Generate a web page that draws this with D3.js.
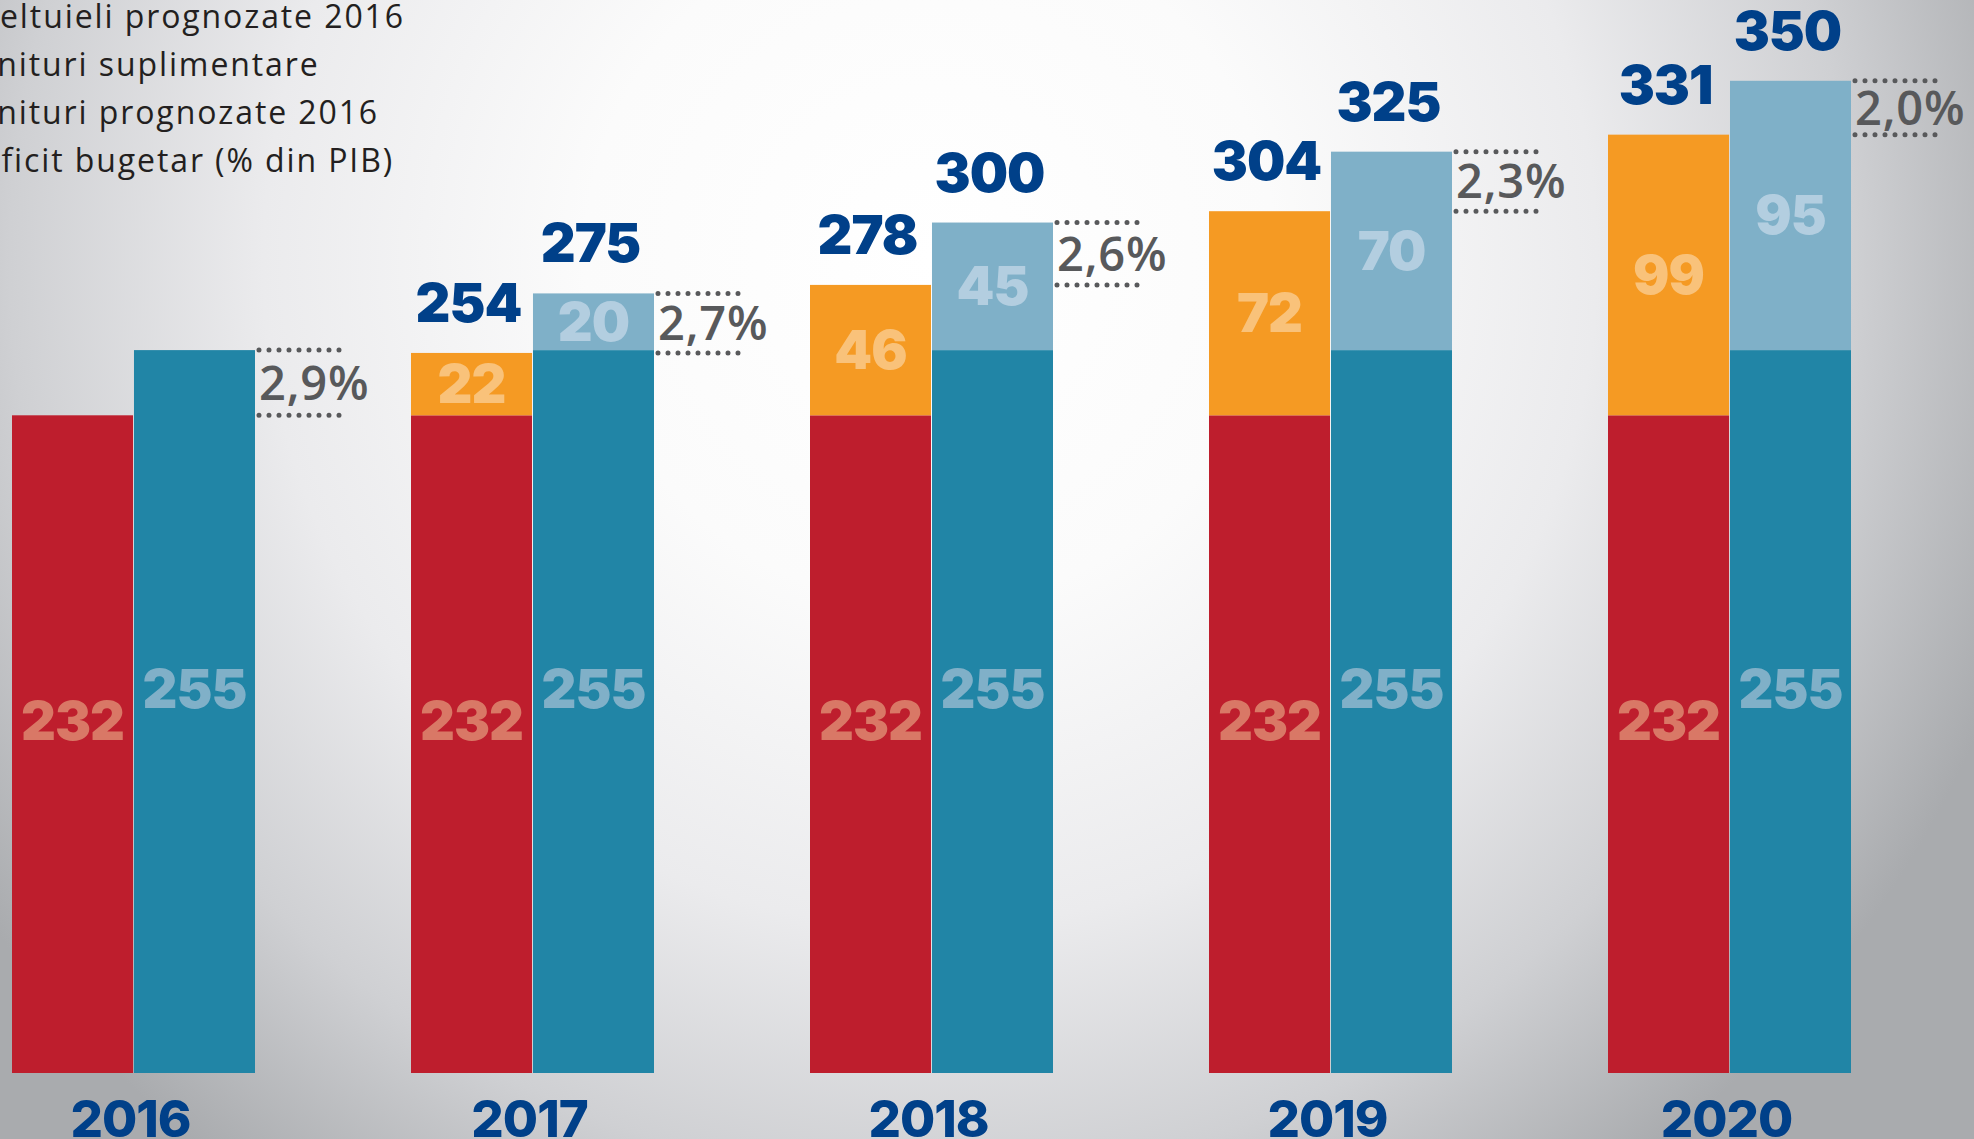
<!DOCTYPE html>
<head>
<meta charset="utf-8">
<style>
  body { margin: 0; overflow: hidden; }
  svg { display: block; }
</style>
</head>
<body>
<div id="chart"></div>
<script src="https://d3js.org/d3.v7.min.js"></script>
<script>
// data (mld. lei)
var years = ["2016", "2017", "2018", "2019", "2020"];
var cheltuieliBaza = [232, 232, 232, 232, 232];
var cheltuieliSupl = [0, 22, 46, 72, 99];
var venituriBaza = [255, 255, 255, 255, 255];
var venituriSupl = [0, 20, 45, 70, 95];
var totalCheltuieli = [null, 254, 278, 304, 331];
var totalVenituri = [null, 275, 300, 325, 350];
var deficit = ["2,9%", "2,7%", "2,6%", "2,3%", "2,0%"];
var legendLabels = ["Cheltuieli prognozate 2016", "Venituri suplimentare",
                    "Venituri prognozate 2016", "Deficit bugetar (% din PIB)"];

var width = 1974, height = 1139;
var base = 1073;

var svg = d3.select("#chart").append("svg")
    .attr("width", width)
    .attr("height", height);

// background
var defs = svg.append("defs");
var grad = defs.append("radialGradient")
    .attr("id", "bg")
    .attr("gradientUnits", "userSpaceOnUse")
    .attr("cx", 930).attr("cy", 260).attr("r", 1150);
[[0, "#ffffff"], [0.3, "#fbfbfb"], [0.58, "#ebebed"], [0.8, "#cfd0d3"], [1, "#a9abae"]]
  .forEach(function(s) {
    grad.append("stop").attr("offset", s[0]).attr("stop-color", s[1]);
  });
svg.append("rect").attr("width", width).attr("height", height).attr("fill", "url(#bg)");

// scales
var x = d3.scaleBand()
    .domain(years)
    .range([12, 1851])
    .paddingInner(0.391)
    .paddingOuter(0);
var sub = d3.scaleBand()
    .domain(["ch", "ven"])
    .range([0, x.bandwidth()])
    .paddingInner(0.008);
var y = d3.scaleLinear()
    .domain([0, 378.5])
    .range([base, 0]);

var rows = years.map(function(yr, i) {
  return {
    year: yr,
    chBase: cheltuieliBaza[i], chSupl: cheltuieliSupl[i],
    venBase: venituriBaza[i], venSupl: venituriSupl[i],
    totCh: totalCheltuieli[i], totVen: totalVenituri[i],
    def: deficit[i]
  };
});

var segs = [];
rows.forEach(function(d) {
  segs.push({year: d.year, bar: "ch", y0: 0, y1: d.chBase, fill: "#be1e2d", text: "#d97866", base: true});
  if (d.chSupl) segs.push({year: d.year, bar: "ch", y0: d.chBase, y1: d.chBase + d.chSupl, fill: "#f59a23", text: "#f9c27a", base: false});
  segs.push({year: d.year, bar: "ven", y0: 0, y1: d.venBase, fill: "#2185a6", text: "#80b0c8", base: true});
  if (d.venSupl) segs.push({year: d.year, bar: "ven", y0: d.venBase, y1: d.venBase + d.venSupl, fill: "#7fb0c8", text: "#b3cee0", base: false});
});

var numFont = "Inter, 'Open Sans', sans-serif";

svg.selectAll(".seg")
    .data(segs)
  .enter().append("rect")
    .attr("class", "seg")
    .attr("x", function(d) { return x(d.year) + sub(d.bar); })
    .attr("width", sub.bandwidth())
    .attr("y", function(d) { return y(d.y1); })
    .attr("height", function(d) { return y(d.y0) - y(d.y1); })
    .attr("fill", function(d) { return d.fill; });

// numbers inside the segments
svg.selectAll(".segLabel")
    .data(segs)
  .enter().append("text")
    .attr("class", "segLabel")
    .attr("x", function(d) { return x(d.year) + sub(d.bar) + sub.bandwidth() / 2; })
    .attr("y", function(d) {
      var mid = (y(d.y0) + y(d.y1)) / 2;
      return mid + 19 - (d.base ? 23 : 0);
    })
    .attr("text-anchor", "middle")
    .style("font-family", numFont)
    .style("font-weight", 900)
    .style("font-size", "54px")
    .style("letter-spacing", "-1px")
    .attr("fill", function(d) { return d.text; })
    .text(function(d) { return d.y1 - d.y0; });

// totals above the bars
var totals = [];
rows.forEach(function(d) {
  if (d.totCh != null) totals.push({year: d.year, bar: "ch", v: d.totCh});
  if (d.totVen != null) totals.push({year: d.year, bar: "ven", v: d.totVen});
});
svg.selectAll(".total")
    .data(totals)
  .enter().append("text")
    .attr("class", "total")
    .attr("x", function(d) { return x(d.year) + sub(d.bar) + sub.bandwidth() / 2 - 3; })
    .attr("y", function(d) { return y(d.v) - 31; })
    .attr("text-anchor", "middle")
    .style("font-family", numFont)
    .style("font-weight", 900)
    .style("font-size", "54px")
    .style("letter-spacing", "-1px")
    .attr("fill", "#004089")
    .text(function(d) { return d.v; });

// deficit markers
var defG = svg.selectAll(".deficit")
    .data(rows)
  .enter().append("g")
    .attr("class", "deficit");
function right(d) { return x(d.year) + sub("ven") + sub.bandwidth(); }
function topV(d) { return d.venBase + d.venSupl; }
function topC(d) { return d.chBase + d.chSupl; }
[topV, topC].forEach(function(f) {
  defG.append("line")
      .attr("x1", function(d) { return right(d) + 4; })
      .attr("x2", function(d) { return right(d) + 86; })
      .attr("y1", function(d) { return y(f(d)); })
      .attr("y2", function(d) { return y(f(d)); })
      .attr("stroke", "#58595b")
      .attr("stroke-width", 5)
      .attr("stroke-linecap", "round")
      .attr("stroke-dasharray", "0 10");
});
defG.append("text")
    .attr("x", function(d) { return right(d) + 4; })
    .attr("y", function(d) { return (y(topV(d)) + y(topC(d))) / 2 + 17; })
    .style("font-family", "'Open Sans', sans-serif")
    .style("font-weight", 600)
    .style("font-size", "47px")
    .style("letter-spacing", "0.8px")
    .attr("fill", "#58595b")
    .text(function(d) { return d.def; });

// year labels
svg.selectAll(".year")
    .data(years)
  .enter().append("text")
    .attr("class", "year")
    .attr("x", function(d) { return x(d) + x.bandwidth() / 2 - 3; })
    .attr("y", 1137)
    .attr("text-anchor", "middle")
    .style("font-family", numFont)
    .style("font-weight", 800)
    .style("font-size", "51px")
    .style("letter-spacing", "-1px")
    .attr("fill", "#004089")
    .text(function(d) { return d; });

// legend (its left part runs off the picture)
var legend = svg.append("g").attr("class", "legend");
var lt = legend.selectAll("text")
    .data(legendLabels)
  .enter().append("text")
    .attr("y", function(d, i) { return 28 + i * 48; })
    .style("font-family", "'Open Sans', sans-serif")
    .style("font-size", "32px")
    .style("letter-spacing", "1.9px")
    .attr("fill", "#231f20")
    .text(function(d) { return d; });
var cut = lt.node().getSubStringLength(0, 2);
lt.attr("x", -cut);
</script>
</body>
</html>
